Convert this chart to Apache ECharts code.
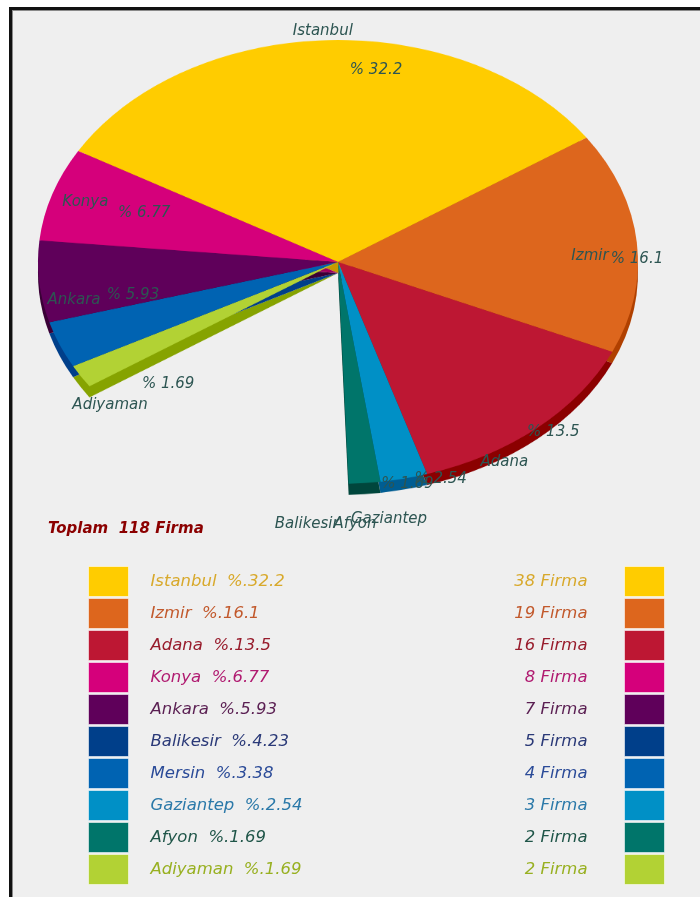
<!DOCTYPE html>
<html>
<head>
<meta charset="utf-8">
<title>Toplam Firma</title>
<script src="https://cdn.jsdelivr.net/npm/echarts@6/dist/echarts.min.js"></script>
<style>
  html, body { margin:0; padding:0; background:#fff; }
  body { width:700px; height:897px; position:relative; overflow:hidden; }
  #frame { position:absolute; left:9px; top:7px; right:0; bottom:0;
           border-left:3px solid #111; border-top:3px solid #111;
           box-shadow: inset 1px 1px 0 #8a8a8a; background:#efefef; }
  /* the pie is drawn round and squeezed into an ellipse */
  #pie  { position:absolute; left:0; top:0; width:700px; height:1100px;
          transform: scaleY(0.74); transform-origin: 0 0; }
  #main { position:absolute; left:0; top:0; width:700px; height:897px; }
</style>
</head>
<body>
<div id="frame"></div>
<div id="pie"></div>
<div id="main"></div>
<script>
/* ================= data ================= */
const cities   = ['Istanbul','Izmir','Adana','Konya','Ankara','Balikesir','Mersin','Gaziantep','Afyon','Adiyaman'];
const firms    = [38, 19, 16, 8, 7, 5, 4, 3, 2, 2];
const percents = ['32.2','16.1','13.5','6.77','5.93','4.23','3.38','2.54','1.69','1.69'];
const total    = 118;

// firms of cities not listed: part of the circle, not drawn
const otherName  = 'Diger';
const otherFirms = total - firms.reduce((a, b) => a + b, 0);

// slice order, clockwise from Istanbul
const pieOrder = ['Istanbul','Izmir','Adana','Gaziantep','Afyon','Balikesir', otherName,'Adiyaman','Mersin','Ankara','Konya'];

/* ================= styles ================= */
const colors = {
  Istanbul:'#ffcc00', Izmir:'#dd661d', Adana:'#bd1733', Konya:'#d5007b', Ankara:'#5f005a',
  Balikesir:'#003f8a', Mersin:'#0063b2', Gaziantep:'#0090c6', Afyon:'#00756a', Adiyaman:'#b2d234'
};
const sideColors = {
  Istanbul:'#c79a00', Izmir:'#b04000', Adana:'#8b0000', Konya:'#a0005c', Ankara:'#3a0036',
  Balikesir:'#002a60', Mersin:'#003f8a', Gaziantep:'#005d92', Afyon:'#00463c', Adiyaman:'#86a300'
};
const textColors = {
  Istanbul:'#d8a92c', Izmir:'#c2592c', Adana:'#981c2c', Konya:'#b01a70', Ankara:'#5a1f52',
  Balikesir:'#2b3a78', Mersin:'#2b4b98', Gaziantep:'#2b79a9', Afyon:'#1f5548', Adiyaman:'#98b021'
};
const hiddenSlices = ['Balikesir', otherName];
const FONT = 'DejaVu Sans';

const K = 0.74;           // vertical squeeze of the pie
const CX = 338, CY = 262; // pie centre on screen
const R = 300, DEPTH = 11;

const valueOf = n => n === otherName ? otherFirms : firms[cities.indexOf(n)];

/* ================= pie (ellipse + side) ================= */
const pieChart = echarts.init(document.getElementById('pie'));

function pieLayer(cy, colorMap) {
  return {
    type:'pie', center:[CX, cy / K], radius:[0, R],
    startAngle:150, clockwise:true, padAngle:0, minAngle:0,
    silent:true, animation:false,
    label:{show:false}, labelLine:{show:false},
    emphasis:{disabled:true},
    itemStyle:{borderWidth:0},
    data: pieOrder.map(n => ({
      name:n, value:valueOf(n),
      itemStyle:{color: hiddenSlices.includes(n) ? 'rgba(0,0,0,0)' : colorMap[n]}
    }))
  };
}

pieChart.setOption({
  animation:false,
  series:[ pieLayer(CY + DEPTH, sideColors), pieLayer(CY, colors) ]
});

/* ================= labels, title, legend ================= */
const chart = echarts.init(document.getElementById('main'));

function labelLayer(c, rx, ry, fmt, noLabel) {
  return {
    type:'pie', center:c, radius:[0, rx * 2],
    startAngle:150, clockwise:true, padAngle:0,
    silent:true, animation:false,
    itemStyle:{color:'rgba(0,0,0,0)', borderWidth:0},
    labelLine:{show:false},
    emphasis:{disabled:true},
    label:{show:true, position:'inside', formatter:fmt, color:'#2d5552',
           fontFamily:FONT, fontStyle:'italic', fontSize:15},
    labelLayout: p => {
      const x = p.labelRect.x + p.labelRect.width / 2;
      const y = p.labelRect.y + p.labelRect.height / 2;
      return {x:x, y:c[1] + (y - c[1]) * ry / rx, align:'center', verticalAlign:'middle'};
    },
    data: pieOrder.map(n => ({
      name:n, value:valueOf(n),
      label:{show: !noLabel.includes(n)}
    }))
  };
}

const legendBase = {
  orient:'vertical', top:566, padding:0,
  itemWidth:40, itemHeight:30, itemGap:1, icon:'rect', selectedMode:false,
  itemStyle:{borderColor:'rgba(255,255,255,0.55)', borderWidth:1},
  data: cities.map(n => ({name:n, itemStyle:{color:colors[n]}, textStyle:{color:textColors[n]}}))
};

chart.setOption({
  animation:false,
  textStyle:{fontFamily:FONT},
  title:{
    text:'Toplam  ' + total + ' Firma',
    left:43, top:517,
    textStyle:{color:'#8b0000', fontFamily:FONT, fontStyle:'italic', fontWeight:'bold', fontSize:15}
  },
  legend:[
    Object.assign({}, legendBase, {
      left:88,
      formatter: n => n + '  %.' + percents[cities.indexOf(n)],
      textStyle:{fontFamily:FONT, fontStyle:'italic', fontSize:16.5, padding:[0,0,0,17]}
    }),
    Object.assign({}, legendBase, {
      right:35, align:'right',
      formatter: n => firms[cities.indexOf(n)] + ' Firma',
      textStyle:{fontFamily:FONT, fontStyle:'italic', fontSize:16.5, padding:[0,32,0,0]}
    })
  ],
  series:[
    // city names near the rim
    labelLayer([332, 278], 256, 244, '{b}', [otherName, 'Mersin']),
    // percentages
    labelLayer([385, 277], 250, 205,
      p => '% ' + percents[cities.indexOf(p.name)],
      [otherName, 'Mersin', 'Balikesir'])
  ]
});
</script>
</body>
</html>
